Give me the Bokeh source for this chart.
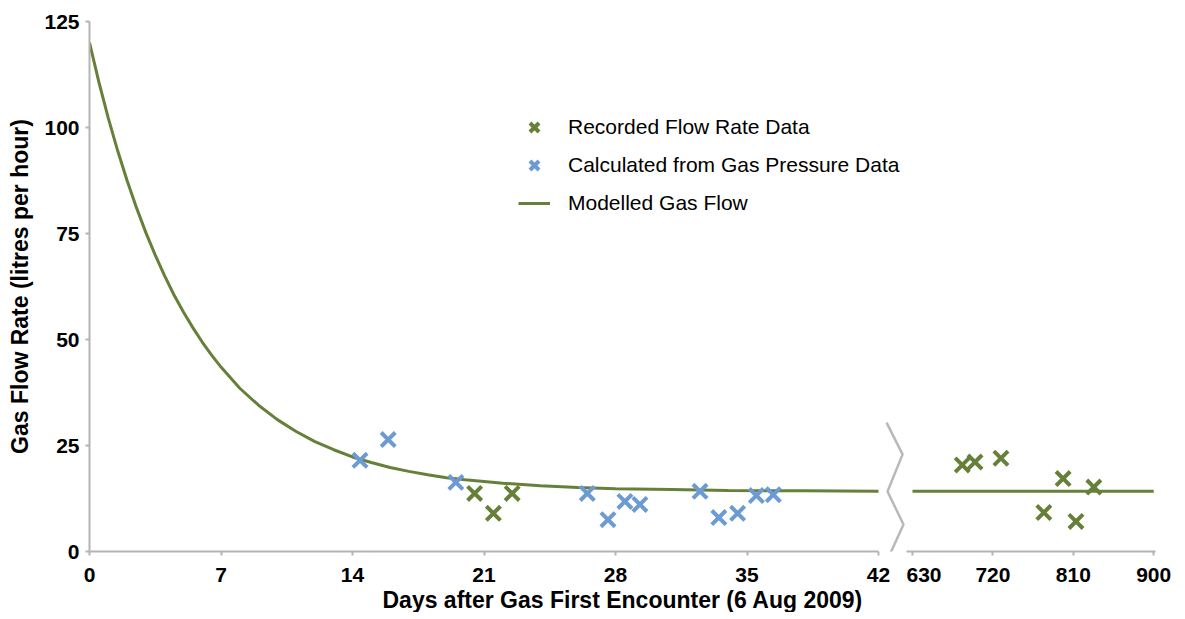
from bokeh.plotting import figure
from bokeh.layouts import row
from bokeh.models import Range1d, Legend, LegendItem, FixedTicker, Title
from bokeh.embed import file_html
from bokeh.resources import INLINE

# ---- data ----
calc_days = [14.4, 15.9, 19.5, 26.5, 27.6, 28.5, 29.3, 32.5, 33.5, 34.5, 35.5, 36.4]
calc_rate = [21.5, 26.4, 16.3, 13.7, 7.5, 11.8, 11.1, 14.2, 8.0, 9.0, 13.2, 13.4]

rec_days_early = [20.5, 21.5, 22.5]
rec_rate_early = [13.7, 9.0, 13.7]

rec_days_late = [685.7, 700.0, 729.0, 777.0, 798.6, 813.0, 833.0]
rec_rate_late = [20.4, 21.1, 22.0, 9.2, 17.2, 7.1, 15.2]

model_days = [0, 0.5, 1, 1.5, 2, 2.5, 3, 3.5, 4, 4.5, 5, 5.5, 6, 6.5, 7, 8, 9, 10, 11, 12,
              13, 14, 15, 16, 17, 18, 19, 20, 22, 24, 26, 28, 31, 34, 38, 42]
model_rate = [120.0, 110.7, 102.2, 94.5, 87.5, 81.1, 75.2, 69.9, 65.0, 60.5, 56.5, 52.8,
              49.4, 46.3, 43.5, 38.5, 34.5, 31.1, 28.3, 25.9, 24.0, 22.3, 21.0, 19.8, 18.9,
              18.1, 17.4, 16.9, 16.1, 15.5, 15.1, 14.8, 14.6, 14.4, 14.3, 14.2]

model_days_late = [630, 900]
model_rate_late = [14.2, 14.2]

x_ticks_early = [0, 7, 14, 21, 28, 35, 42]
x_ticks_late = [630, 720, 810, 900]
y_ticks = [0, 25, 50, 75, 100, 125]

x_title = "Days after Gas First Encounter (6 Aug 2009)"
y_title = "Gas Flow Rate (litres per hour)"
legend_labels = ["Recorded Flow Rate Data", "Calculated from Gas Pressure Data", "Modelled Gas Flow"]

# ---- styles ----
GREEN = "#66803a"
BLUE = "#6b9bd2"
AXIS_GRAY = "#b4b4b4"
FONT = "Liberation Sans"


def style_axis(ax):
    ax.axis_line_color = AXIS_GRAY
    ax.axis_line_width = 2
    ax.major_tick_line_color = AXIS_GRAY
    ax.major_tick_line_width = 2
    ax.major_tick_out = 4
    ax.major_tick_in = 0
    ax.minor_tick_line_color = None
    ax.major_label_text_font = FONT
    ax.major_label_text_font_style = "bold"
    ax.major_label_text_font_size = "21px"
    ax.major_label_text_color = "#000000"


# left panel: frame spans the gap too, so that the break marker can be drawn in it
p1 = figure(frame_width=817, frame_height=530, x_range=Range1d(0, 43.49), y_range=Range1d(0, 125),
            output_backend="svg", toolbar_location=None,
            min_border_left=89, min_border_right=0, min_border_top=21, min_border_bottom=0)
p1.outline_line_color = None
p1.xgrid.visible = False
p1.ygrid.visible = False
style_axis(p1.xaxis[0])
style_axis(p1.yaxis[0])
p1.xaxis.bounds = (0, 42)
p1.xaxis.ticker = FixedTicker(ticks=x_ticks_early)
p1.yaxis.ticker = FixedTicker(ticks=y_ticks)
p1.xaxis.major_label_standoff = 12
p1.yaxis.major_label_standoff = 6
p1.yaxis.axis_label = y_title
p1.yaxis.axis_label_text_font = FONT
p1.yaxis.axis_label_text_font_style = "bold"
p1.yaxis.axis_label_text_font_size = "23px"
p1.yaxis.axis_label_text_color = "#000000"
p1.yaxis.axis_label_standoff = 8

line_r = p1.line(model_days, model_rate, line_color=GREEN, line_width=3)
rec_r = p1.scatter(rec_days_early, rec_rate_early, marker="x", size=20, line_width=4,
                   line_color=GREEN)
calc_r = p1.scatter(calc_days, calc_rate, marker="x", size=20, line_width=4,
                    line_color=BLUE)

legend = Legend(items=[LegendItem(label=legend_labels[0], renderers=[rec_r]),
                       LegendItem(label=legend_labels[1], renderers=[calc_r]),
                       LegendItem(label=legend_labels[2], renderers=[line_r])],
                location=(429, 332))
legend.border_line_color = None
legend.background_fill_alpha = 0
legend.padding = 0
legend.margin = 0
legend.spacing = 6
legend.glyph_width = 32
legend.glyph_height = 32
legend.label_height = 32
legend.label_standoff = 18
legend.label_text_font = FONT
legend.label_text_font_size = "21px"
legend.label_text_color = "#000000"
p1.add_layout(legend, "center")

# axis break marker (zigzag)
bx = [42.43, 43.28, 42.48, 43.33, 42.48]
by = [30.4, 22.9, 14.15, 6.37, -1.9]
p1.line(bx, by, line_color="#b9b9b9", line_width=2.5)

title = Title(text=x_title, align="left", offset=293, text_font=FONT, text_font_style="bold",
              text_font_size="23px", text_color="#000000", standoff=0)
p1.add_layout(title, "below")

# right panel
p2 = figure(frame_width=249, frame_height=530, x_range=Range1d(623.3, 902), y_range=p1.y_range,
            output_backend="svg", toolbar_location=None, y_axis_location=None,
            min_border_left=0, min_border_right=30, min_border_top=21, min_border_bottom=0)
p2.outline_line_color = None
p2.xgrid.visible = False
p2.ygrid.visible = False
style_axis(p2.xaxis[0])
p2.xaxis.ticker = FixedTicker(ticks=x_ticks_late)
p2.xaxis.major_label_standoff = 12
p2.line(model_days_late, model_rate_late, line_color=GREEN, line_width=3)
p2.scatter(rec_days_late, rec_rate_late, marker="x", size=20, line_width=4, line_color=GREEN)

layout = row(p1, p2)
open("out.html", "w").write(file_html(layout, INLINE))
